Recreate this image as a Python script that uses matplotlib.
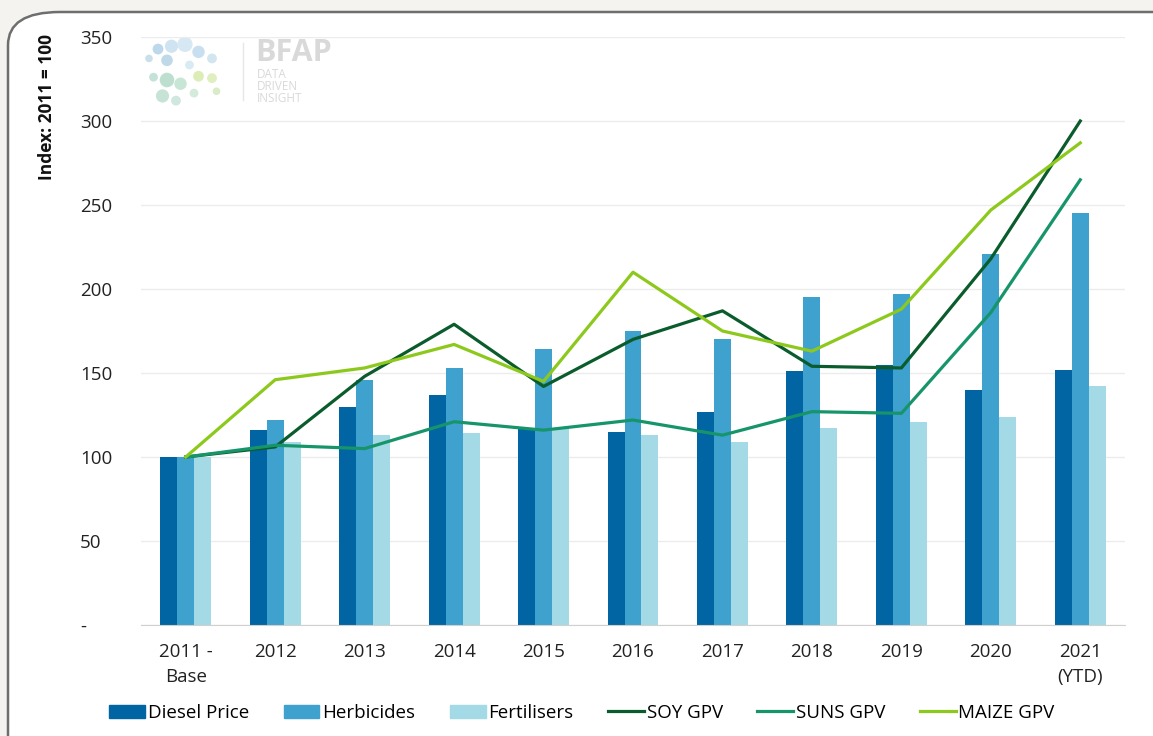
import matplotlib
matplotlib.use("Agg")
import matplotlib.pyplot as plt
import numpy as np
from matplotlib.patches import FancyBboxPatch, Patch
from matplotlib.lines import Line2D

categories = ["2011 -\nBase", "2012", "2013", "2014", "2015", "2016", "2017", "2018", "2019", "2020", "2021\n(YTD)"]
diesel = [100, 116, 130, 137, 117, 115, 127, 151, 155, 140, 152]
herbicides = [100, 122, 146, 153, 164, 175, 170, 195, 197, 221, 245]
fertilisers = [100, 109, 113, 114, 117, 113, 109, 117, 121, 124, 142]
soy_gpv = [100, 106, 148, 179, 142, 170, 187, 154, 153, 218, 300]
suns_gpv = [100, 107, 105, 121, 116, 122, 113, 127, 126, 186, 265]
maize_gpv = [100, 146, 153, 167, 145, 210, 175, 163, 188, 247, 287]
yticks = [0, 50, 100, 150, 200, 250, 300, 350]
ytick_labels = ["-", "50", "100", "150", "200", "250", "300", "350"]

plt.rcParams['font.family'] = ['Open Sans', 'DejaVu Sans']

fig = plt.figure(figsize=(11.53, 7.36), dpi=100)
fig.patch.set_facecolor("#f4f3ef")

# white framed panel with rounded corner
panel = FancyBboxPatch((8/1153, -0.1), 1.2, (736-12)/736 + 0.1,
                       boxstyle="round,pad=0,rounding_size=0.045",
                       transform=fig.transFigure, facecolor="white",
                       edgecolor="#6e6e6e", linewidth=1.8, zorder=-10)
fig.add_artist(panel)

ax = fig.add_axes([141/1153, 111/736, (1125-141)/1153, (625-37)/736])
ax.set_facecolor("none")
ax.set_zorder(2)

x = np.arange(len(categories))
w = 0.19
c_d, c_h, c_f = "#0065a2", "#3fa1cd", "#a3dae6"
ax.bar(x - w, diesel, w, color=c_d, zorder=2)
ax.bar(x, herbicides, w, color=c_h, zorder=2)
ax.bar(x + w, fertilisers, w, color=c_f, zorder=2)

c_soy, c_suns, c_maize = "#0a5c2c", "#17956a", "#8dc91c"
ax.plot(x, soy_gpv, color=c_soy, lw=2.3, zorder=3)
ax.plot(x, suns_gpv, color=c_suns, lw=2.3, zorder=3)
ax.plot(x, maize_gpv, color=c_maize, lw=2.3, zorder=3)

ax.set_xlim(-0.5, len(categories) - 0.5)
ax.set_ylim(0, 350)
ax.set_yticks(yticks)
ax.set_yticklabels(ytick_labels, fontsize=13.5, color="#222222")
ax.set_xticks(x)
ax.set_xticklabels(categories, fontsize=13.5, color="#222222", linespacing=1.5)
ax.tick_params(axis="both", length=0)
ax.tick_params(axis="y", pad=44)
ax.tick_params(axis="x", pad=13)
for lab in ax.get_yticklabels():
    lab.set_horizontalalignment("left")
ax.yaxis.grid(True, color="#ececec", lw=1, zorder=0)
ax.set_axisbelow(True)
for s in ["top", "right", "left"]:
    ax.spines[s].set_visible(False)
ax.spines["bottom"].set_color("#d0d0d0")

fig.text(47/1153, (736-107)/736, "Index: 2011 = 100", rotation=90, fontsize=12.5,
         fontweight="bold", ha="center", va="center", color="#111111")

# faint logo
logo_ax = fig.add_axes([140/1153, (736-110)/736, 90/1153, 75/736])
logo_ax.set_zorder(1)
logo_ax.set_xlim(0, 10); logo_ax.set_ylim(0, 8); logo_ax.axis("off")
dots = [(2, 6.5, "#bcd8ea", 60), (3.5, 6.8, "#cfe3f0", 90), (5, 7, "#d6e8f3", 120),
        (6.5, 6.2, "#c8dff0", 80), (1, 5.5, "#c9e0ea", 30), (3, 5.3, "#bfd9e8", 70),
        (8, 5.5, "#d3e6f0", 50), (1.5, 3.5, "#c5e2d8", 40), (3, 3.2, "#bddfd0", 110),
        (4.5, 2.8, "#c8e6d6", 80), (6.5, 3.6, "#dcedb8", 60), (8, 3.4, "#e0efc0", 50),
        (2.5, 1.5, "#c6e3d6", 90), (4, 1, "#cfe7dc", 50), (6, 1.8, "#d5ebd9", 40),
        (8.5, 2, "#d8ecc8", 30), (5.5, 4.8, "#d8eaf2", 40)]
for dx, dy, dc, ds in dots:
    logo_ax.scatter([dx], [dy], s=ds, color=dc, edgecolors="none")
fig.add_artist(Line2D([243/1153, 243/1153], [(736-43)/736, (736-100)/736],
                      transform=fig.transFigure, color="#e6e6e6", lw=1))
fig.text(255/1153, (736-53)/736, "BFAP", fontsize=22, fontweight="bold",
         color="#d9d9d9", va="center", ha="left")
fig.text(257/1153, (736-87)/736, "DATA\nDRIVEN\nINSIGHT", fontsize=8.5,
         color="#d9d9d9", va="center", ha="left", linespacing=0.9)

handles = [Patch(color=c_d, label="Diesel Price"),
           Patch(color=c_h, label="Herbicides"),
           Patch(color=c_f, label="Fertilisers"),
           Line2D([], [], color=c_soy, lw=2.3, label="SOY GPV"),
           Line2D([], [], color=c_suns, lw=2.3, label="SUNS GPV"),
           Line2D([], [], color=c_maize, lw=2.3, label="MAIZE GPV")]
fig.legend(handles=handles, loc="center", bbox_to_anchor=(582/1153, (736-713)/736),
           ncol=6, frameon=False, fontsize=13.5, handlelength=1.9, handleheight=0.7,
           handletextpad=0.15, columnspacing=1.85)

fig.savefig("out.png", dpi=100, facecolor=fig.get_facecolor())
